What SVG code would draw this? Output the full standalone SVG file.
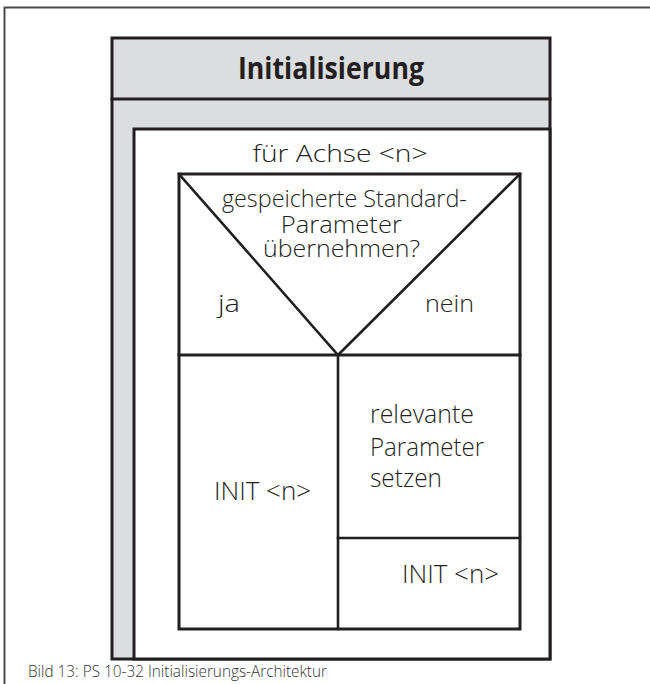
<svg xmlns="http://www.w3.org/2000/svg" width="650" height="684" viewBox="0 0 650 684">
  <style>
    .frame { fill: none; stroke: #4a4a4a; stroke-width: 2; }
    .box { stroke: #231f20; stroke-width: 3; }
    .rule { fill: none; stroke: #231f20; stroke-width: 2.6; stroke-linecap: square; }
    .shade { fill: #dcdddf; }
    .blank { fill: #ffffff; }
    text { font-family: "Open Sans", "Liberation Sans", Arial, sans-serif; fill: #231f20; font-weight: 300; }
    .title { font-size: 30px; font-weight: 700; text-anchor: middle; }
    .label { font-size: 24px; }
    .big { font-size: 25px; }
    .mid { text-anchor: middle; }
    .caption { font-size: 17px; fill: #333333; }
  </style>

  <!-- page frame -->
  <path class="frame" d="M4.5,684 V7.5 H650"/>

  <!-- outer block: Initialisierung -->
  <g id="initialisierung">
    <rect class="box shade" x="112" y="38" width="438" height="621"/>
    <line class="rule" x1="112" y1="99" x2="550" y2="99" style="stroke-width:3"/>
    <text class="title" x="331" y="79" textLength="186" lengthAdjust="spacingAndGlyphs">Initialisierung</text>
  </g>

  <!-- loop block: für Achse <n> -->
  <g id="loop-achse">
    <rect class="box blank" x="134" y="129" width="416" height="530"/>
    <text class="label mid" x="340" y="162" textLength="175" lengthAdjust="spacingAndGlyphs">für  Achse &lt;n&gt;</text>
  </g>

  <!-- decision block -->
  <g id="decision">
    <rect class="box blank" x="179" y="174" width="341" height="455"/>
    <text class="label mid">
      <tspan x="347.5" y="207" textLength="245" lengthAdjust="spacingAndGlyphs">gespeicherte Standard-</tspan>
      <tspan x="344.5" y="233" textLength="121" lengthAdjust="spacingAndGlyphs">Parameter</tspan>
      <tspan x="341.5" y="257" textLength="157" lengthAdjust="spacingAndGlyphs">übernehmen?</tspan>
    </text>
    <text class="label" x="218" y="312" textLength="22" lengthAdjust="spacingAndGlyphs">ja</text>
    <text class="label" x="425" y="312" textLength="49" lengthAdjust="spacingAndGlyphs">nein</text>
  </g>

  <!-- branch cells -->
  <g id="branch-ja">
    <text class="big" x="214" y="500" textLength="97" lengthAdjust="spacingAndGlyphs">INIT &lt;n&gt;</text>
  </g>
  <g id="branch-nein-setzen">
    <text class="big">
      <tspan x="370" y="423" textLength="104" lengthAdjust="spacingAndGlyphs">relevante</tspan>
      <tspan x="370" y="456" textLength="114" lengthAdjust="spacingAndGlyphs">Parameter</tspan>
      <tspan x="370" y="487" textLength="72" lengthAdjust="spacingAndGlyphs">setzen</tspan>
    </text>
  </g>
  <g id="branch-nein-init">
    <text class="big" x="402" y="583" textLength="97" lengthAdjust="spacingAndGlyphs">INIT &lt;n&gt;</text>
  </g>

  <!-- dividing lines of the structogram -->
  <g id="connectors">
    <path class="rule" d="M179,174 L338,355 L520,174"/>
    <line class="rule" x1="179" y1="355" x2="520" y2="355" style="stroke-width:3"/>
    <line class="rule" x1="338" y1="355" x2="338" y2="629"/>
    <line class="rule" x1="338" y1="538" x2="520" y2="538"/>
  </g>

  <text class="caption" x="28" y="677" textLength="299" lengthAdjust="spacingAndGlyphs">Bild 13: PS 10-32 Initialisierungs-Architektur</text>
</svg>
